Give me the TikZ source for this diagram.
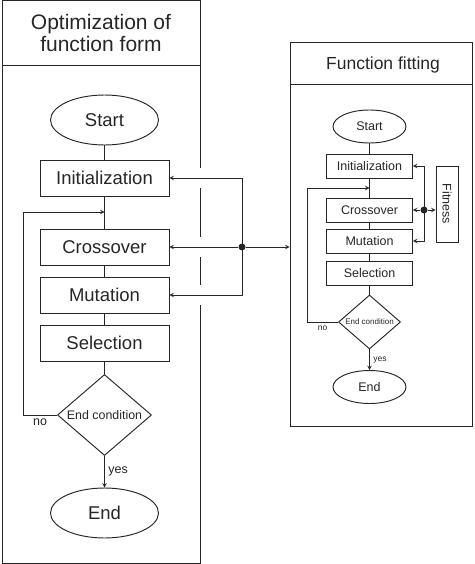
\documentclass[tikz,border=0pt]{standalone}
\usepackage{fontspec}
\usepackage{graphicx}
\setmainfont{Liberation Sans}
\usetikzlibrary{shapes.geometric}

\begin{document}
\begin{tikzpicture}[x=1pt, y=-1pt, line width=0.95pt, color=black!85]
  % Define styles
  \tikzstyle{panel} = [rectangle, draw, inner sep=0pt]
  \tikzstyle{startstop} = [ellipse, draw, minimum width=108pt, minimum height=50pt,
                           font=\fontsize{18.5}{20}\selectfont]
  \tikzstyle{process} = [rectangle, draw, minimum width=129pt, minimum height=36pt,
                         font=\fontsize{18.5}{20}\selectfont]
  \tikzstyle{decision} = [diamond, draw, minimum width=94pt, minimum height=81pt,
                          inner sep=0pt, font=\fontsize{12.4}{14}\selectfont]
  \tikzstyle{smallstartstop} = [startstop, minimum width=73pt, minimum height=33pt,
                                font=\fontsize{12.5}{14}\selectfont]
  \tikzstyle{smallprocess} = [process, minimum width=86pt, minimum height=24pt,
                              font=\fontsize{12.5}{14}\selectfont]
  \tikzstyle{smalldecision} = [decision, minimum width=62pt, minimum height=54pt,
                               font=\fontsize{8}{9}\selectfont]
  \tikzstyle{fitbox} = [rectangle, draw, minimum width=22pt, minimum height=76pt,
                        inner sep=0pt, font=\fontsize{12.5}{14}\selectfont]
  \tikzstyle{answer} = [font=\fontsize{12.5}{14}\selectfont]
  \tikzstyle{smallanswer} = [font=\fontsize{8.5}{10}\selectfont]
  \tikzstyle{dot} = [circle, fill, inner sep=0pt, minimum size=7pt]
  \tikzstyle{arrow} = [->,>=stealth]

  \useasboundingbox (0,0) rectangle (474,564);

  % Panels
  \node (lpanel) [panel, minimum width=198pt, minimum height=562.5pt] at (101,281.75) {};
  \node (rpanel) [panel, minimum width=182.5pt, minimum height=384pt] at (381.25,234) {};
  \draw (lpanel.west |- 0,65) -- (lpanel.east |- 0,65);
  \draw (rpanel.west |- 0,84) -- (rpanel.east |- 0,84);
  \node (ltitle) [font=\fontsize{21}{22}\selectfont, align=center] at (101,33) {Optimization of\\function form};
  \node (rtitle) [font=\fontsize{17.5}{19}\selectfont] at (383,65) {Function fitting};

  % Nodes, left
  \node (lstart) [startstop] at (104.5,120) {Start};
  \node (linit) [process, node distance=58pt, below of=lstart] {Initialization};
  \node (lcross) [process, node distance=69pt, below of=linit] {Crossover};
  \node (lmut) [process, node distance=48pt, below of=lcross] {Mutation};
  \node (lsel) [process, node distance=48pt, below of=lmut] {Selection};
  \node (lcond) [decision, node distance=72pt, below of=lsel] {\makebox[0pt]{End condition}};
  \node (lend) [startstop, node distance=98pt, below of=lcond] {End};
  \node (ldot) [dot] at (242,247) {};
  \coordinate (lback) at (104.5,212);

  % Nodes, right
  \node (rstart) [smallstartstop] at (369.5,126.5) {Start};
  \node (rinit) [smallprocess, node distance=39.5pt, below of=rstart] {Initialization};
  \node (rcross) [smallprocess, node distance=44pt, below of=rinit] {Crossover};
  \node (rmut) [smallprocess, node distance=31pt, below of=rcross] {Mutation};
  \node (rsel) [smallprocess, node distance=32pt, below of=rmut] {Selection};
  \node (rcond) [smalldecision, node distance=49pt, below of=rsel] {\makebox[0pt]{End condition}};
  \node (rend) [smallstartstop, node distance=65pt, below of=rcond] {End};
  \node (fit) [fitbox] at (447,204) {\rotatebox{-90}{Fitness}};
  \node (rdot) [dot] at (424,210) {};
  \coordinate (rback) at (369.5,188);

  % Gaps in the left frame
  \foreach \y in {178,247,295}
    \fill [white] (197,\y-10) rectangle (203,\y+10);

  % Arrows, left
  \draw (lstart) -- (linit);
  \draw (linit) -- (lcross);
  \draw (lcross) -- (lmut);
  \draw (lmut) -- (lsel);
  \draw (lsel) -- (lcond);
  \draw [arrow] (lcond) -- node[answer, right] {yes} (lend);
  \draw [arrow] (lcond.west) -- node[answer, below] {no} ++(-34,0) |- (lback);
  \draw [arrow] (ldot.center) |- (linit.east);
  \draw [arrow] (ldot) -- (lcross.east);
  \draw [arrow] (ldot.center) |- (lmut.east);
  \draw [arrow] (ldot) -- (ldot -| rpanel.west);

  % Arrows, right
  \draw (rstart) -- (rinit);
  \draw (rinit) -- (rcross);
  \draw (rcross) -- (rmut);
  \draw (rmut) -- (rsel);
  \draw (rsel) -- (rcond);
  \draw [arrow] (rcond) -- node[smallanswer, right] {yes} (rend);
  \draw [arrow] (rcond.west) -- node[smallanswer, below] {no} ++(-31,0) |- (rback);
  \draw [arrow] (rdot.center) |- (rinit.east);
  \draw [arrow] (rdot) -- (rcross.east);
  \draw [arrow] (rdot.center) |- (rmut.east);
  \draw [arrow] (rdot) -- (rdot -| fit.west);
\end{tikzpicture}
\end{document}
